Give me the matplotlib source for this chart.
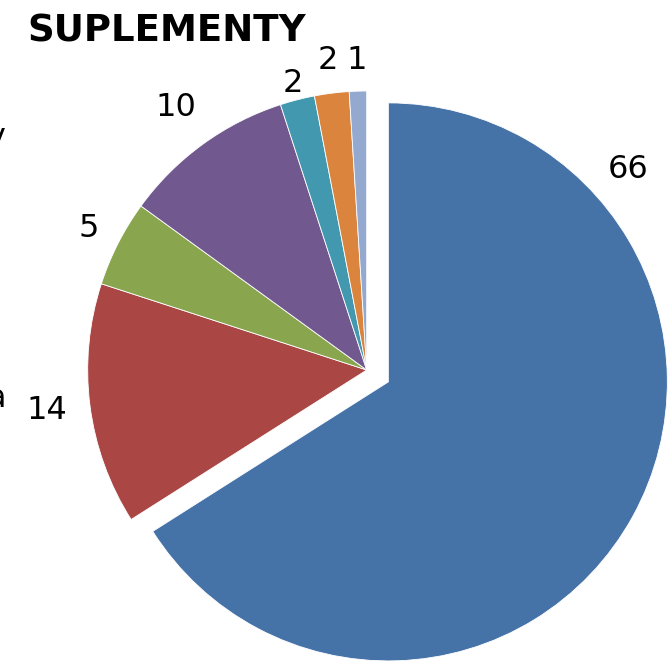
import numpy as np
import matplotlib
matplotlib.use("Agg")
import matplotlib.pyplot as plt

# ---- data ----
values = [66, 14, 5, 10, 2, 2, 1]
value_labels = ["66", "14", "5", "10", "2", "2", "1"]
colors = ["#4572A7", "#AA4643", "#89A54E", "#71588F", "#4198AF", "#DB843D", "#93A9CF"]
title = "SUPLEMENTY"
cut_fragments = ["y", "a"]

# ---- layout (pixels, data units == pixels) ----
W, H = 668, 661
R = 279.0
cx, cy = 366.7, H - 370.0
explode_frac = [0.0885, 0, 0, 0, 0, 0, 0]
label_dist = [1.147, 1.156, 1.12, 1.165, 1.06, 1.118, 1.11]
label_angle_override = {0: 41.5}

fig = plt.figure(figsize=(W / 100, H / 100), dpi=100)
ax = fig.add_axes([0, 0, 1, 1])

wedges, _ = ax.pie(values, colors=colors, startangle=90, counterclock=False,
                   center=(cx, cy), radius=R,
                   explode=[e * R for e in explode_frac],
                   wedgeprops=dict(edgecolor="white", linewidth=0.6),
                   frame=False)

for i, w in enumerate(wedges):
    ang = label_angle_override.get(i, 0.5 * (w.theta1 + w.theta2))
    a = np.deg2rad(ang)
    wx, wy = w.center
    x = wx + label_dist[i] * R * np.cos(a)
    y = wy + label_dist[i] * R * np.sin(a)
    ax.text(x, y, value_labels[i], ha="center", va="center", fontsize=23,
            color="black", family="DejaVu Sans")

ax.set_xlim(0, W)
ax.set_ylim(0, H)
ax.set_aspect("equal")
ax.axis("off")

fig.text(27 / W, 1 - 42 / H, title, fontsize=26.7, fontweight="bold",
         ha="left", va="baseline", family="DejaVu Sans")

# partially visible category labels cut at left edge
fig.text(5 / W, 1 - 146 / H, cut_fragments[0], fontsize=23, ha="right",
         va="baseline", family="DejaVu Sans")
fig.text(6 / W, 1 - 407 / H, cut_fragments[1], fontsize=23, ha="right",
         va="baseline", family="DejaVu Sans")

fig.savefig("out.png", dpi=100)
